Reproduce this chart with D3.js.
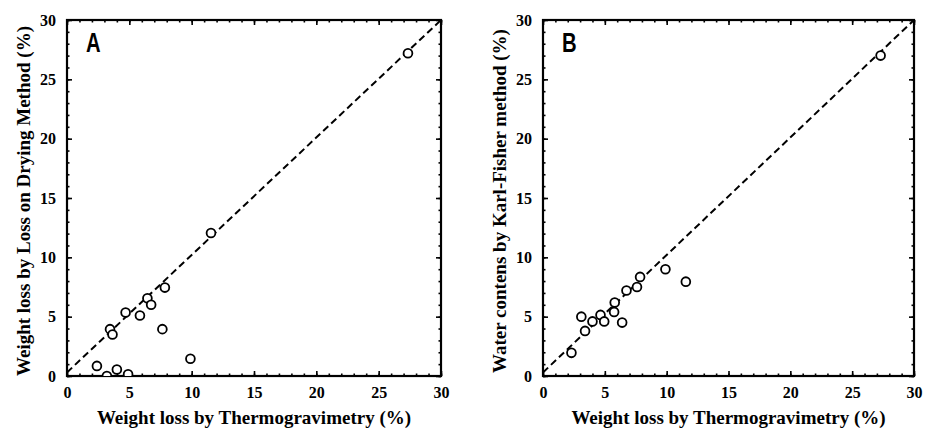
<!DOCTYPE html>
<html>
<head>
<meta charset="utf-8">
<script src="https://cdn.jsdelivr.net/npm/d3@7"></script>
<style>
  body { margin: 0; background: white; }
  svg { display: block; }
</style>
</head>
<body>
<script>
// values
var thermoA = [27.35, 11.55, 2.4, 3.2, 4.0, 4.9, 3.45, 3.65, 4.7, 5.85, 6.45, 6.75, 7.85, 7.65, 9.9];
var dryingA = [27.2, 12.05, 0.85, 0.0, 0.55, 0.15, 3.95, 3.5, 5.35, 5.1, 6.55, 6.0, 7.45, 3.95, 1.45];
var thermoB = [27.3, 2.3, 3.1, 3.4, 4.0, 4.65, 4.95, 5.8, 5.75, 6.4, 6.75, 7.6, 7.85, 9.9, 11.55];
var karlB = [27.0, 1.95, 5.0, 3.8, 4.6, 5.15, 4.6, 6.2, 5.4, 4.5, 7.2, 7.5, 8.35, 9.0, 7.95];
var fitX = [0, 30];
var fitY = [0.3, 30];
var majorTicks = [0, 5, 10, 15, 20, 25, 30];
var minorTicks = d3.range(0, 31, 1);
var xTitle = "Weight loss by Thermogravimetry (%)";
var yTitleA = "Weight loss by Loss on Drying Method (%)";
var yTitleB = "Water contens by Karl-Fisher method (%)";

var width = 925,
    height = 433;
var svg = d3.select('body')
    .append('svg')
    .attr('width', width)
    .attr('height', height);

var serif = "'Liberation Serif', 'Times New Roman', serif";

var drawPanel = function (id, left, right, xs, ys, yTitle, letter) {
    var top = 20, bottom = 376;
    var x = d3.scaleLinear().domain([0, 30]).range([left, right]);
    var y = d3.scaleLinear().domain([0, 30]).range([bottom, top]);
    var g = svg.append("g");

    //clip so points sitting on the axis are cut like in the original
    svg.append("clipPath")
        .attr("id", "clip" + id)
        .append("rect")
        .attr("x", left).attr("y", top)
        .attr("width", right - left).attr("height", bottom - top);

    //minor and major ticks on all four sides, pointing inward
    var sides = [
        [d3.axisBottom, x, "translate(0," + bottom + ")", true],
        [d3.axisTop, x, "translate(0," + top + ")", false],
        [d3.axisLeft, y, "translate(" + left + ",0)", true],
        [d3.axisRight, y, "translate(" + right + ",0)", false]
    ];
    sides.forEach(function (s) {
        var minor = g.append("g")
            .attr("transform", s[2])
            .call(s[0](s[1]).tickValues(minorTicks).tickSize(-2.5).tickSizeOuter(0).tickFormat(""));
        minor.select(".domain").remove();
        minor.selectAll("line").attr("stroke-width", 1.6);
        var major = g.append("g")
            .attr("transform", s[2])
            .call(s[0](s[1]).tickValues(majorTicks).tickSize(-5).tickSizeOuter(0)
                .tickPadding(s[3] ? 11 : 3)
                .tickFormat(s[3] ? d3.format("d") : ""));
        major.select(".domain").remove();
        major.selectAll("line").attr("stroke-width", 1.6);
        major.selectAll("text")
            .style("font-family", serif)
            .style("font-weight", "bold")
            .style("font-size", "16px")
            .attr("fill", "black");
    });

    //frame
    g.append("rect")
        .attr("x", left).attr("y", top)
        .attr("width", right - left).attr("height", bottom - top)
        .attr("fill", "none")
        .attr("stroke", "black")
        .attr("stroke-width", 2.2);

    //dashed fit line
    var line = d3.line()
        .x(function (d, i) { return x(fitX[i]); })
        .y(function (d) { return y(d); });
    g.append("path")
        .datum(fitY)
        .attr("d", line)
        .attr("fill", "none")
        .attr("stroke", "black")
        .attr("stroke-width", 2)
        .attr("stroke-dasharray", "7,4");

    //points
    g.append("g")
        .attr("clip-path", "url(#clip" + id + ")")
        .selectAll("circle")
        .data(xs)
        .enter().append("circle")
        .attr("cx", function (d) { return x(d); })
        .attr("cy", function (d, i) { return y(ys[i]); })
        .attr("r", 4.4)
        .attr("fill", "white")
        .attr("stroke", "black")
        .attr("stroke-width", 1.8);

    //axis titles
    g.append("text")
        .attr("x", (left + right) / 2)
        .attr("y", 424)
        .attr("text-anchor", "middle")
        .style("font-family", serif)
        .style("font-weight", "bold")
        .style("font-size", "19px")
        .text(xTitle);
    g.append("text")
        .attr("transform", "translate(" + (left - 37) + "," + ((top + bottom) / 2 + 3) + ") rotate(-90)")
        .attr("text-anchor", "middle")
        .style("font-family", serif)
        .style("font-weight", "bold")
        .style("font-size", "19px")
        .text(yTitle);

    //panel letter, squeezed to look condensed
    g.append("text")
        .attr("transform", "translate(" + (left + 19) + ",52) scale(0.75,1)")
        .style("font-family", "'Liberation Sans', Arial, sans-serif")
        .style("font-weight", "bold")
        .style("font-size", "27px")
        .text(letter);
};

drawPanel("A", 67, 441, thermoA, dryingA, yTitleA, "A");
drawPanel("B", 543, 914, thermoB, karlB, yTitleB, "B");
</script>
</body>
</html>
